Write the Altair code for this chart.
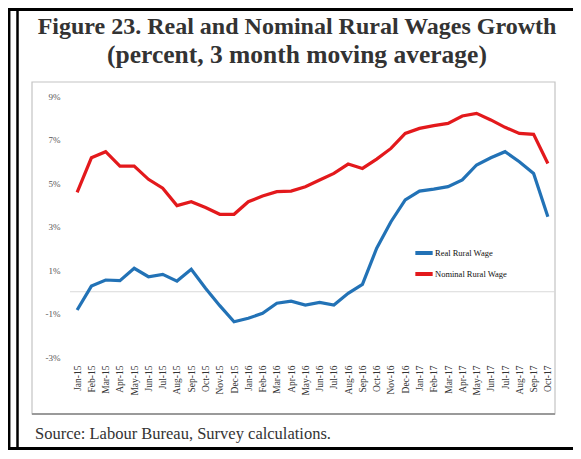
import altair as alt
import pandas as pd

months = ["Jan-15", "Feb-15", "Mar-15", "Apr-15", "May-15", "Jun-15", "Jul-15", "Aug-15",
          "Sep-15", "Oct-15", "Nov-15", "Dec-15", "Jan-16", "Feb-16", "Mar-16", "Apr-16",
          "May-16", "Jun-16", "Jul-16", "Aug-16", "Sep-16", "Oct-16", "Nov-16", "Dec-16",
          "Jan-17", "Feb-17", "Mar-17", "Apr-17", "May-17", "Jun-17", "Jul-17", "Aug-17",
          "Sep-17", "Oct-17"]
real = [-0.84, 0.26, 0.54, 0.51, 1.08, 0.69, 0.80, 0.49, 1.03, 0.16, -0.64, -1.38,
        -1.22, -0.99, -0.53, -0.43, -0.61, -0.49, -0.61, -0.07, 0.34, 2.00, 3.22, 4.22,
        4.63, 4.72, 4.83, 5.14, 5.83, 6.16, 6.44, 5.98, 5.44, 3.45]
nominal = [4.57, 6.16, 6.44, 5.78, 5.78, 5.17, 4.76, 3.96, 4.14, 3.87, 3.56, 3.56,
           4.14, 4.40, 4.60, 4.63, 4.83, 5.14, 5.44, 5.87, 5.67, 6.10, 6.59, 7.28,
           7.51, 7.64, 7.74, 8.08, 8.20, 7.90, 7.56, 7.28, 7.24, 5.90]
series_names = ["Real Rural Wage", "Nominal Rural Wage"]
series_colors = ["#2272B6", "#E3191C"]
y_ticks = [-3, -1, 1, 3, 5, 7, 9]
title_lines = ["Figure 23. Real and Nominal Rural Wages Growth",
               "(percent, 3 month moving average)"]
source_text = "Source: Labour Bureau, Survey calculations."

df = pd.DataFrame({
    "month": months * 2,
    "value": real + nominal,
    "series": [series_names[0]] * len(months) + [series_names[1]] * len(months),
})

W, H = 485, 261
PL, PT = 62, 88
TOTAL_W, TOTAL_H = 565, 442
FONT = "Liberation Serif"

x_enc = alt.X("month:N", sort=months,
              scale=alt.Scale(type="point", padding=0.5),
              axis=alt.Axis(title=None, labelAngle=-90, labelFont=FONT, labelFontSize=9.5,
                            labelColor="#333", ticks=False, domain=False, labelPadding=8,
                            labelOverlap=False))
y_scale = alt.Scale(domain=[-3, 9], nice=False, zero=False)
y_enc = alt.Y("value:Q", scale=y_scale,
              axis=alt.Axis(title=None, values=y_ticks, labelExpr="datum.value + '%'",
                            grid=False, ticks=False, domain=False, labelFont=FONT,
                            labelFontSize=9, labelColor="#555", labelPadding=10))

lines = alt.Chart(df).mark_line(strokeWidth=3.2).encode(
    x=x_enc,
    y=y_enc,
    color=alt.Color("series:N", sort=series_names,
                    scale=alt.Scale(domain=series_names, range=series_colors),
                    legend=alt.Legend(title=None, orient="none", legendX=343, legendY=146,
                                      symbolType="stroke", symbolStrokeWidth=4,
                                      symbolSize=300, labelFont=FONT, labelFontSize=8.5,
                                      labelColor="#111", rowPadding=2, labelOffset=0)),
)

one = pd.DataFrame({"a": [0]})
base = alt.Chart(one)

zero_line = base.mark_rule(color="#d9d9d9", strokeWidth=1).encode(
    y=alt.Y(datum=0, scale=y_scale), x=alt.value(0), x2=alt.value(W))

box = base.mark_rect(fill="transparent", stroke="#c4c4c4", strokeWidth=1.2).encode(
    x=alt.value(-38), x2=alt.value(W), y=alt.value(-14), y2=alt.value(318))
box_bottom = base.mark_rule(color="#9a9a9a", strokeWidth=2).encode(
    x=alt.value(-38), x2=alt.value(W), y=alt.value(318))

frame_top = base.mark_rule(color="black", strokeWidth=3).encode(
    x=alt.value(-PL), x2=alt.value(TOTAL_W - PL), y=alt.value(-PT + 1.5))
frame_left1 = base.mark_rule(color="black", strokeWidth=2.5).encode(
    x=alt.value(-PL + 1.2), y=alt.value(-PT), y2=alt.value(TOTAL_H - PT))
frame_left2 = base.mark_rule(color="black", strokeWidth=2.5).encode(
    x=alt.value(-PL + 9.5), y=alt.value(-PT), y2=alt.value(TOTAL_H - PT))
frame_bottom = base.mark_rule(color="black", strokeWidth=3).encode(
    x=alt.value(-PL), x2=alt.value(TOTAL_W - PL), y=alt.value(TOTAL_H - PT - 1.5))

title1 = base.mark_text(font=FONT, fontSize=24, fontWeight="bold", color="#333333",
                        baseline="middle", align="center").encode(
    x=alt.value(227), y=alt.value(-69), text=alt.value(title_lines[0]))
title2 = base.mark_text(font=FONT, fontSize=25.5, fontWeight="bold", color="#333333",
                        baseline="middle", align="center").encode(
    x=alt.value(227), y=alt.value(-41), text=alt.value(title_lines[1]))
source = base.mark_text(font=FONT, fontSize=16.5, color="#333333",
                        baseline="middle", align="left").encode(
    x=alt.value(-35), y=alt.value(338), text=alt.value(source_text))

chart = alt.layer(
    box, box_bottom, zero_line, lines,
    frame_top, frame_left1, frame_left2, frame_bottom,
    title1, title2, source,
).properties(
    width=W, height=H,
    autosize=alt.AutoSizeParams(type="none"),
    padding={"left": PL, "top": PT, "right": TOTAL_W - PL - W, "bottom": TOTAL_H - PT - H},
    background="white",
).configure_view(stroke=None)

chart.save("out.html", embed_options={"renderer": "svg", "actions": False})
